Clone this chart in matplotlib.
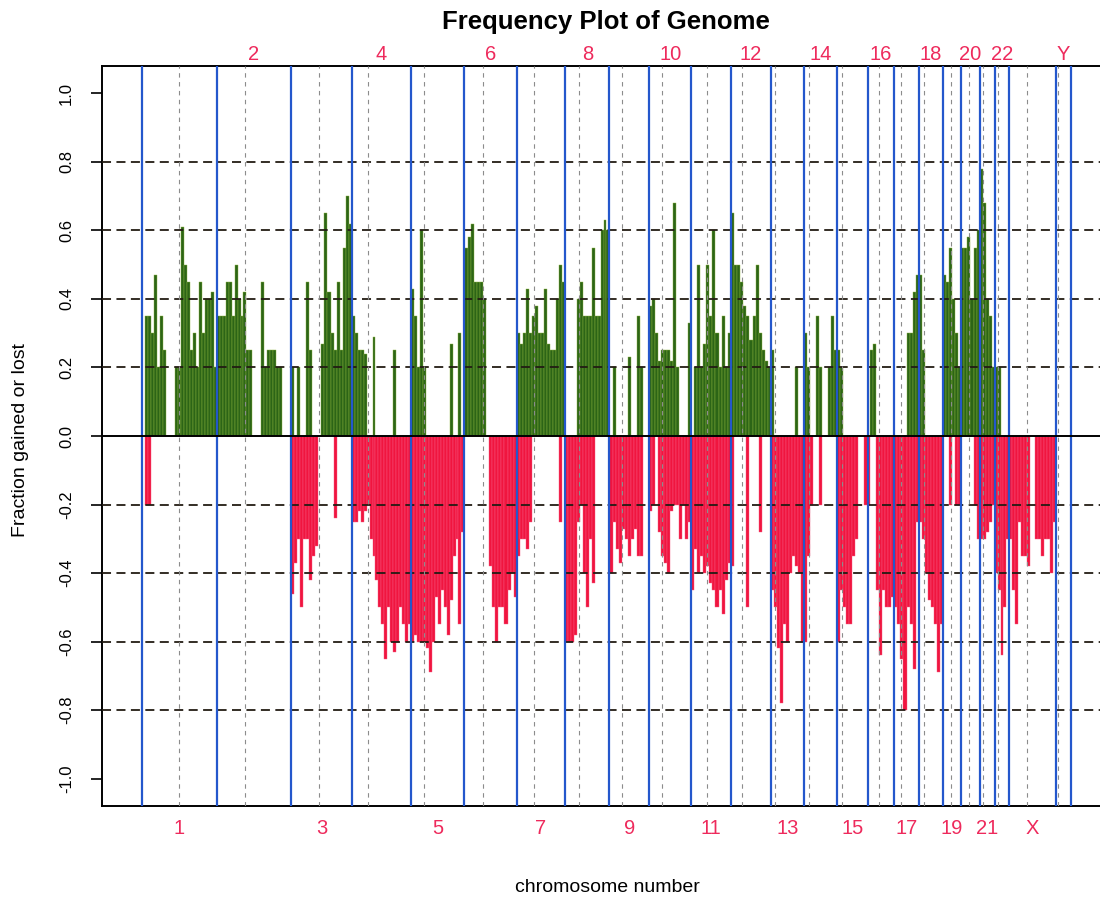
import numpy as np
import matplotlib
matplotlib.use("Agg")
import matplotlib.pyplot as plt
from matplotlib import transforms

plt.rcParams["font.family"] = ["Liberation Sans", "DejaVu Sans"]

# chromosome layout (Mb, as drawn in the original)
chroms = ["1", "2", "3", "4", "5", "6", "7", "8", "9", "10", "11", "12", "13", "14",
          "15", "16", "17", "18", "19", "20", "21", "22", "X", "Y"]
chrom_len = [248.6, 246.4, 201.2, 196.6, 176.8, 173.6, 160.2, 146.8, 132.6, 137.3, 132.6, 133.6,
             110.4, 107.4, 101.5, 88.5, 81.9, 78.6, 60.8, 63.0, 49.7, 46.4, 155.8, 48.7]
centromere = [124, 93, 93, 53, 44, 63, 57, 45, 43, 41, 53, 36,
              12, 16, 17, 37, 23, 17, 28, 27, 11, 11, 59, 8]

# fraction of samples gained, binned evenly along each chromosome
gain_freq = [
    [0, .35, .35, .30, .47, .20, .35, .25, 0, 0, 0, .20, .20, .61, .50, .45, .25, .30, .20, .45, .30, .40, .40, .42, .20],  # 1
    [.35, .35, .35, .45, .45, .35, .50, .40, .35, .42, .25, .25, 0, 0, 0, .45, .20, .25, .25, .25, .20, .20, 0, 0, 0],  # 2
    [.20, 0, .20, 0, 0, .45, .25, 0, 0, 0, .27, .65, .42, .30, .25, .45, .25, .55, .70, .62],  # 3
    [.35, .30, .25, .25, .24, 0, 0, .29, 0, 0, 0, 0, 0, 0, .25, 0, 0, 0, 0, 0],  # 4
    [.43, .35, .20, .60, .20, 0, 0, 0, 0, 0, 0, 0, 0, .27, 0, 0, .30, 0],  # 5
    [.55, .58, .62, .45, .45, .45, .40, 0, 0, 0, 0, 0, 0, 0, 0, 0, 0],  # 6
    [.30, .27, .30, .43, .30, .35, .38, .30, .30, .43, .27, .25, .25, .40, .50, .45],  # 7
    [0, 0, 0, 0, .40, .45, .35, .35, .35, .55, .35, .35, .60, .63, .60],  # 8
    [0, .20, 0, 0, 0, 0, .23, 0, 0, .35, .20, 0, 0],  # 9
    [.38, .40, .30, .22, .25, .25, .25, .22, .68, .20, 0, 0, 0, .33],  # 10
    [0, .20, .50, .20, .27, .50, .35, .60, .30, .20, .35, .20, .30],  # 11
    [.65, .50, .50, .45, .38, .35, .28, .35, .50, .30, .25, .22, .20],  # 12
    [.25, 0, 0, 0, 0, 0, 0, 0, .20, 0, 0],  # 13
    [.30, .20, 0, 0, .35, .20, 0, 0, .20, .35, .25],  # 14
    [.25, .20, 0, 0, 0, 0, 0, 0, 0, 0],  # 15
    [0, .25, .27, 0, 0, 0, 0, 0, 0],  # 16
    [0, 0, 0, 0, .30, .30, .42, .47],  # 17
    [.47, .25, 0, 0, 0, 0, 0, 0],  # 18
    [.47, .45, .55, .40, .30, .20],  # 19
    [.55, .55, .58, .40, .55, .60],  # 20
    [.78, .68, .40, .35, .20],  # 21
    [.20, .20, 0, 0, 0],  # 22
    [0] * 16,  # X
    [0] * 5,  # Y
]

# fraction of samples lost (negative)
loss_freq = [
    [0, -.20, -.20] + [0] * 22,  # 1
    [0] * 25,  # 2
    [-.46, -.37, -.30, -.50, -.30, -.30, -.42, -.35, -.32, 0, 0, 0, 0, 0, -.24, 0, 0, 0, 0, 0],  # 3
    [-.25, -.25, -.22, -.25, -.22, -.20, -.30, -.35, -.42, -.50, -.55, -.65, -.50, -.60, -.63, -.60, -.50, -.55, -.60, -.55],  # 4
    [-.60, -.58, -.60, -.60, -.60, -.62, -.69, -.60, -.47, -.55, -.45, -.50, -.58, -.48, -.35, -.30, -.55, -.28],  # 5
    [0, 0, 0, 0, 0, 0, 0, 0, -.38, -.50, -.60, -.50, -.50, -.55, -.45, -.40, -.47],  # 6
    [-.35, -.30, -.30, -.33, -.25, 0, 0, 0, 0, 0, 0, 0, 0, 0, -.25, 0],  # 7
    [-.60, -.60, -.60, -.58, -.25, -.20, -.40, -.50, -.30, -.43, 0, 0, 0, 0, 0],  # 8
    [-.40, -.25, -.33, -.37, -.27, -.30, -.35, -.30, -.27, -.35, -.35, 0, 0],  # 9
    [-.22, -.20, 0, -.28, -.35, -.37, -.40, -.22, -.20, -.20, -.30, -.20, -.30, -.25],  # 10
    [-.45, -.33, -.40, -.35, -.40, -.38, -.43, -.45, -.50, -.45, -.52, -.42, -.37],  # 11
    [-.38, 0, 0, 0, 0, -.50, 0, 0, 0, -.28, 0, 0, 0],  # 12
    [-.45, -.50, -.62, -.78, -.55, -.60, -.40, -.35, -.38, -.40, -.60],  # 13
    [-.60, -.35, -.20, 0, 0, -.20, 0, 0, 0, 0, 0],  # 14
    [-.60, -.45, -.50, -.55, -.55, -.35, -.30, 0, 0, -.20],  # 15
    [-.20, 0, 0, -.45, -.64, -.45, -.50, -.50, -.47],  # 16
    [-.50, -.55, -.65, -.80, -.50, -.55, -.68, -.25],  # 17
    [-.25, -.30, -.40, -.48, -.50, -.55, -.69, -.55],  # 18
    [0, 0, -.20, 0, -.20, -.20],  # 19
    [0, 0, 0, 0, -.20, -.30],  # 20
    [-.30, -.30, -.28, -.25, -.20],  # 21
    [-.40, -.45, -.64, -.50, -.30],  # 22
    [-.30, -.45, -.55, -.25, -.35, -.35, -.38, 0, 0, -.30, -.30, -.35, -.30, -.30, -.40, -.25],  # X
    [0] * 5,  # Y
]

GAIN_C, GAIN_EDGE = "#2C6516", "#8DB43E"
LOSS_C, LOSS_EDGE = "#F0153F", "#F65C84"
LABEL_C = "#EE2A5C"

starts = np.concatenate([[0], np.cumsum(chrom_len)[:-1]])
total = float(np.sum(chrom_len))
pad = 131.6

fig = plt.figure(figsize=(11, 8.98), dpi=100)
ax = fig.add_axes([102 / 1100, 92 / 898, 1008.4 / 1100, 740 / 898])

for s, L, g, l in zip(starts, chrom_len, gain_freq, loss_freq):
    n = len(g)
    w = L / n
    xc = s + w * (np.arange(n) + 0.5)
    ax.bar(xc, g, width=w, color=GAIN_C, edgecolor=GAIN_EDGE, linewidth=0.3, zorder=2)
    n = len(l)
    w = L / n
    xc = s + w * (np.arange(n) + 0.5)
    ax.bar(xc, l, width=w, color=LOSS_C, edgecolor=LOSS_EDGE, linewidth=0.3, zorder=2)

for y in [-0.8, -0.6, -0.4, -0.2, 0.2, 0.4, 0.6, 0.8]:
    ax.axhline(y, color="#231c14", lw=1.3, ls=(0, (5, 3)), zorder=3)
for s, c in zip(starts, centromere):
    ax.axvline(s + c, color="#8c8c8c", lw=0.8, ls=(0, (4, 4)), zorder=3)
for b in list(starts) + [total]:
    ax.axvline(b, color="#2457CC", lw=1.6, zorder=4)
ax.axhline(0, color="black", lw=1.4, zorder=5)

ax.set_xlim(-pad, total + pad)
ax.set_ylim(-1.08, 1.08)
ax.set_xticks([])
ticks = np.round(np.arange(-1.0, 1.01, 0.2), 1)
ax.set_yticks(ticks)
ax.set_yticklabels([f"{t + 0.0:.1f}" if abs(t) > 1e-9 else "0.0" for t in ticks],
                   rotation=90, va="center", fontsize=12)
ax.tick_params(axis="y", length=8, width=1.2, pad=12)
for sp in ax.spines.values():
    sp.set_linewidth(1.4)

# chromosome labels: even on top, odd below
trans = transforms.blended_transform_factory(ax.transData, ax.transAxes)
for i, (name, s, L) in enumerate(zip(chroms, starts, chrom_len)):
    mid = s + L / 2
    if i % 2 == 1:
        ax.text(mid, 1.0 + 11 / 740, name, transform=trans, ha="center", va="center",
                color=LABEL_C, fontsize=14.5)
    else:
        ax.text(mid, -23 / 740, name, transform=trans, ha="center", va="center",
                color=LABEL_C, fontsize=14.5)

fig.text(606 / 1100, 1 - 22 / 898, "Frequency Plot of Genome", ha="center", va="center",
         fontsize=18.5, fontweight="bold")
fig.text(607 / 1100, 1 - 887 / 898, "chromosome number", ha="center", va="center", fontsize=14)
fig.text(21 / 1100, 1 - 440 / 898, "Fraction gained or lost", ha="center", va="center",
         rotation=90, fontsize=14)

fig.savefig("out.png", dpi=100)
